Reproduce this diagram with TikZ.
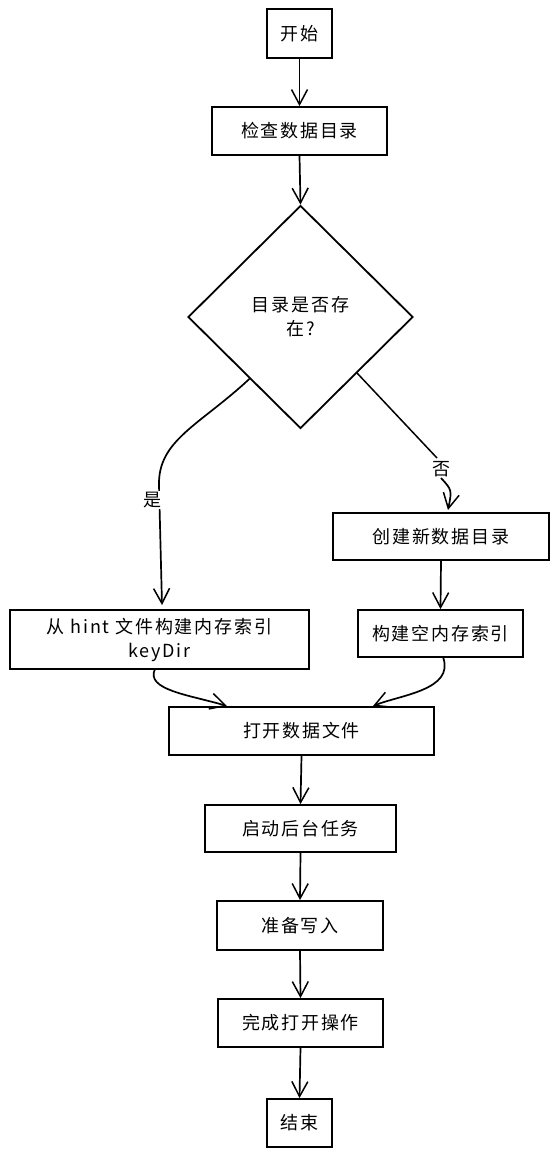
\documentclass[tikz,border=0pt]{standalone}
\usepackage{fontspec}
\setmainfont{Noto Sans CJK SC}[LetterSpace=10]
\usetikzlibrary{arrows.meta,shapes.geometric,calc}
\tikzset{
  box/.style={draw, line width=1.8pt, rectangle, inner sep=0pt, align=center, font=\fontsize{18}{24}\selectfont},
  dia/.style={draw, line width=1.8pt, diamond, inner sep=0pt, align=center, font=\fontsize{18}{24}\selectfont},
  flow/.style={line width=1.7pt, -{Straight Barb[length=15pt,width=16pt,line width=1.5pt]}},
  lbl/.style={fill=white, inner sep=1pt, font=\fontsize{18}{20}\selectfont}
}
\begin{document}
\begin{tikzpicture}[x=1pt,y=-1pt]
\useasboundingbox (0,0) rectangle (558,1156);
\node[box, minimum width=65pt, minimum height=49pt] (start) at (299.5,33.5) {开始};
\node[box, minimum width=175pt, minimum height=48pt] (check) at (299.5,131) {检查数据目录};
\node[dia, minimum width=225pt, minimum height=223pt] (dec) at (300.5,317) {目录是否存\\在?};
\node[box, minimum width=299pt, minimum height=59pt] (hint) at (159.5,639.5) {从 hint 文件构建内存索引\\keyDir};
\node[box, minimum width=216pt, minimum height=47pt] (create) at (441,536.5) {创建新数据目录};
\node[box, minimum width=165pt, minimum height=47pt] (empty) at (440.5,633.5) {构建空内存索引};
\node[box, minimum width=265pt, minimum height=48pt] (open) at (301.5,731) {打开数据文件};
\node[box, minimum width=191pt, minimum height=47pt] (bg) at (300.5,828.5) {启动后台任务};
\node[box, minimum width=166pt, minimum height=49pt] (prep) at (300,925.5) {准备写入};
\node[box, minimum width=165pt, minimum height=48pt] (done) at (300.5,1023) {完成打开操作};
\node[box, minimum width=65pt, minimum height=48pt] (end) at (299.5,1123) {结束};

\draw[flow] (start.south) -- (check.north);
\draw[flow] (check.south) -- (dec.north);
\coordinate (ys) at ($(dec.west)!0.55!(dec.south)$);
\coordinate (ns) at ($(dec.east)!0.5!(dec.south)$);
\draw[flow] (ys) .. controls (200,425) and (158,440) .. (159,485) -- (162,605);
\node[lbl] (yes) at (152,500) {是};
\draw[line width=1.5pt] (ns) -- (437,458);
\node[lbl] (no) at (441,469) {否};
\draw[flow] (no.south) .. controls (452,490) .. (448,510);
\draw[flow] (create.south) -- (empty.north);
\draw[flow] (155,669) .. controls (145,690) and (190,695) .. (227,706);
\draw[flow] (443,657) .. controls (455,690) and (400,695) .. (373,706);
\draw[flow] (open.south) -- (bg.north);
\draw[flow] (bg.south) -- (prep.north);
\draw[flow] (prep.south) -- (done.north);
\draw[flow] (done.south) -- (end.north);
\end{tikzpicture}
\end{document}
